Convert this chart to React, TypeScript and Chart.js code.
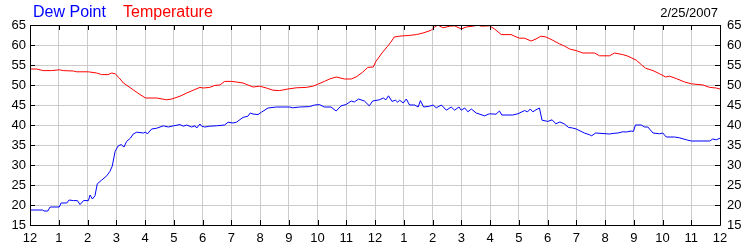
import React, { useEffect, useRef } from "react";
import { Chart, registerables } from "chart.js";

Chart.register(...registerables);

const chartDate = "2/25/2007";
const dewLabel = "Dew Point";
const tempLabel = "Temperature";

const yTicks = [15, 20, 25, 30, 35, 40, 45, 50, 55, 60, 65];
const hourTicks = [0, 1, 2, 3, 4, 5, 6, 7, 8, 9, 10, 11, 12, 13, 14, 15, 16, 17, 18, 19, 20, 21, 22, 23, 24];

const tempHours = [
  0, 0.23, 0.46, 0.75, 1.02, 1.16, 1.51, 1.62, 2.03, 2.32, 2.49, 2.72, 2.84, 2.96, 3.1, 3.25, 3.59, 3.83, 4.02, 4.41,
  4.75, 4.93, 5.22, 5.45, 5.68, 5.91, 6.02, 6.25, 6.43, 6.6, 6.77, 7.0, 7.18, 7.41, 7.58, 7.76, 7.99, 8.22, 8.45, 8.68,
  8.97, 9.26, 9.61, 9.84, 10.01, 10.24, 10.42, 10.65, 10.82, 10.94, 11.17, 11.34, 11.57, 11.75, 11.94, 12.03, 12.27,
  12.44, 12.55, 12.67, 12.84, 13.2, 13.44, 13.67, 13.96, 14.07, 14.19, 14.36, 14.6, 14.77, 15.0, 15.17, 15.4, 15.58,
  15.69, 15.98, 16.16, 16.39, 16.73, 17.02, 17.2, 17.43, 17.6, 17.77, 17.95, 18.18, 18.41, 18.6, 18.77, 19.0, 19.23,
  19.64, 19.81, 20.16, 20.33, 20.62, 20.8, 21.09, 21.26, 21.41, 21.67, 21.9, 22.11, 22.25, 22.48, 22.77, 23.0, 23.41,
  23.64, 23.87, 24.0,
];
const tempValues = [
  54.0, 54.0, 53.6, 53.6, 53.8, 53.6, 53.5, 53.3, 53.3, 53.0, 52.6, 52.6, 53.0, 52.8, 51.8, 50.5, 48.8, 47.6, 46.75, 46.75,
  46.3, 46.5, 47.2, 48.0, 48.7, 49.4, 49.25, 49.4, 49.9, 50.0, 50.9, 50.9, 50.75, 50.5, 50.0, 49.5, 49.7, 49.25, 48.7, 48.6,
  49.0, 49.3, 49.4, 49.7, 50.2, 50.9, 51.5, 52.0, 51.7, 51.5, 51.5, 52.0, 53.2, 54.4, 54.5, 55.9, 58.25,
  59.7, 60.7, 62.0, 62.2, 62.4, 62.6, 63.0, 63.7, 64.5, 65.0, 64.3, 64.7, 64.8, 64.0, 64.5, 64.7, 65.0,
  64.7, 64.8, 64.0, 62.6, 62.6, 61.7, 61.7, 61.0, 61.5, 62.2, 62.0, 61.2, 60.3, 59.7, 59.0, 58.6, 58.0,
  58.0, 57.3, 57.3, 58.0, 57.6, 57.2, 56.2, 55.1, 54.2, 53.6, 52.8, 52.0, 52.2, 51.6, 50.75, 50.3, 50.0,
  49.4, 49.25, 49.0,
];

const dewHours = [
  0, 0.44, 0.49, 0.62, 0.7, 1.02, 1.08, 1.28, 1.36, 1.51, 1.65, 1.74, 1.86, 2.03, 2.09, 2.17, 2.26, 2.34, 2.49, 2.67,
  2.78, 2.86, 2.96, 3.07, 3.17, 3.27, 3.36, 3.5, 3.59, 3.71, 3.94, 4.02, 4.08, 4.23, 4.41, 4.64, 4.81, 4.99, 5.22, 5.33,
  5.45, 5.62, 5.74, 5.8, 5.91, 5.97, 6.08, 6.25, 6.49, 6.77, 6.89, 7.06, 7.18, 7.41, 7.58, 7.66, 7.76, 7.93, 8.05, 8.28,
  8.57, 9.03, 9.14, 9.38, 9.72, 9.9, 10.07, 10.24, 10.47, 10.65, 10.82, 10.99, 11.17, 11.28, 11.43, 11.63, 11.8, 11.92,
  12.15, 12.29, 12.38, 12.47, 12.59, 12.71, 12.79, 12.86, 12.98, 13.09, 13.2, 13.38, 13.5, 13.58, 13.69, 13.9, 14.02,
  14.13, 14.31, 14.48, 14.65, 14.77, 14.92, 15.0, 15.12, 15.23, 15.35, 15.52, 15.81, 15.98, 16.21, 16.33, 16.41, 16.79,
  16.97, 17.2, 17.31, 17.4, 17.49, 17.6, 17.72, 17.81, 18.01, 18.16, 18.29, 18.43, 18.58, 18.73, 18.87, 19.0, 19.28,
  19.45, 19.54, 19.67, 20.16, 20.28, 20.45, 20.62, 20.74, 20.91, 20.99, 21.06, 21.26, 21.38, 21.49, 21.67, 21.9, 22.01,
  22.13, 22.42, 22.59, 22.83, 23.0, 23.64, 23.75, 23.87, 24.0,
];
const dewValues = [
  18.75, 18.75, 18.5, 18.5, 19.5, 19.5, 20.5, 20.5, 21.25, 21.1, 21.1, 20.1, 21.1, 21.1, 22.5, 21.5, 22.3, 25.3, 26.2, 27.3,
  28.4, 29.7, 33.4, 34.8, 35.1, 34.5, 35.9, 36.75, 37.75, 38.2, 38.0, 38.25, 37.75, 39.0, 39.2, 39.8, 39.5, 39.8, 40.1, 39.7,
  40.0, 39.5, 39.8, 39.25, 40.25, 39.7, 39.5, 39.7, 39.8, 40.0, 40.7, 40.5, 40.7, 41.9, 42.2, 43.0, 42.75, 42.6, 43.2, 44.25,
  44.5, 44.5, 44.3, 44.5, 44.6, 45.0, 45.1, 44.5, 44.5, 43.5, 44.8, 45.1, 46.0, 45.75, 46.5, 46.0, 44.8, 46.0,
  46.3, 46.75, 46.3, 47.3, 45.9, 46.2, 45.7, 46.2, 45.5, 46.5, 45.0, 45.0, 44.5, 46.1, 44.5, 44.7, 45.0,
  44.3, 45.0, 43.7, 44.5, 43.7, 44.5, 43.7, 44.25, 43.3, 44.0, 43.0, 42.3, 42.8, 42.7, 43.5, 42.5, 42.5,
  42.8, 43.6, 43.3, 44.0, 43.3, 43.8, 44.25, 41.2, 40.9, 41.3, 40.3, 40.75, 40.3, 39.4, 39.25, 39.0, 38.0,
  37.6, 37.3, 38.0, 37.75, 37.9, 38.0, 38.3, 38.25, 38.5, 38.4, 40.0, 40.0, 39.5, 39.5, 38.0, 37.8, 38.0,
  37.0, 37.0, 36.8, 36.3, 36.0, 36.0, 36.5, 36.3, 36.7,
];

const FONT = "'Liberation Sans', Arial, sans-serif";

const frame = {
  id: "frame",
  afterDraw(chart: any) {
    const { ctx, chartArea } = chart;
    const { left, right, top, bottom } = chartArea;
    const xs = chart.scales.x;
    const ys = chart.scales.y;
    ctx.save();
    ctx.strokeStyle = "#000";
    ctx.lineWidth = 1;
    ctx.beginPath();
    ctx.rect(Math.round(left) + 0.5, Math.round(top) + 0.5, Math.round(right - left), Math.round(bottom - top));
    for (const h of hourTicks) {
      const px = Math.round(xs.getPixelForValue(h)) + 0.5;
      ctx.moveTo(px, top);
      ctx.lineTo(px, top + 5);
      ctx.moveTo(px, bottom);
      ctx.lineTo(px, bottom - 5);
    }
    for (const v of yTicks) {
      const py = Math.round(ys.getPixelForValue(v)) + 0.5;
      ctx.moveTo(left, py);
      ctx.lineTo(left + 5, py);
      ctx.moveTo(right, py);
      ctx.lineTo(right - 5, py);
    }
    ctx.stroke();
    ctx.restore();
  },
};

export default function App() {
  const ref = useRef<HTMLCanvasElement>(null);
  useEffect(() => {
    document.body.style.margin = "0";
    const chart = new Chart(ref.current as HTMLCanvasElement, {
      type: "line",
      data: {
        datasets: [
          {
            label: tempLabel,
            data: tempHours.map((h, i) => ({ x: h, y: tempValues[i] })),
            borderColor: "#ff0000",
            borderWidth: 1,
            pointRadius: 0,
            tension: 0,
            fill: false,
          },
          {
            label: dewLabel,
            data: dewHours.map((h, i) => ({ x: h, y: dewValues[i] })),
            borderColor: "#0000ff",
            borderWidth: 1,
            pointRadius: 0,
            tension: 0,
            fill: false,
          },
        ],
      },
      options: {
        animation: false,
        responsive: false,
        devicePixelRatio: 1,
        layout: { padding: { top: 25, left: 0, right: 0, bottom: 0 } },
        plugins: { legend: { display: false }, tooltip: { enabled: false } },
        scales: {
          x: {
            type: "linear",
            min: 0,
            max: 24,
            position: "bottom",
            afterFit: (s: any) => {
              s.height = 25;
            },
            afterBuildTicks: (s: any) => {
              s.ticks = hourTicks.map((v) => ({ value: v }));
            },
            ticks: {
              autoSkip: false,
              maxRotation: 0,
              padding: 6,
              color: "#000",
              font: { family: FONT, size: 13 },
              callback: (v: any) => String(v % 12 === 0 ? 12 : v % 12),
            },
            grid: { color: "#cccccc", drawTicks: false },
            border: { display: false },
          },
          y: {
            min: 15,
            max: 65,
            position: "left",
            afterFit: (s: any) => {
              s.width = 30;
            },
            afterBuildTicks: (s: any) => {
              s.ticks = yTicks.map((v) => ({ value: v }));
            },
            ticks: { padding: 4, color: "#000", font: { family: FONT, size: 13 } },
            grid: { color: "#cccccc", drawTicks: false },
            border: { display: false },
          },
          y2: {
            min: 15,
            max: 65,
            position: "right",
            afterFit: (s: any) => {
              s.width = 30;
            },
            afterBuildTicks: (s: any) => {
              s.ticks = yTicks.map((v) => ({ value: v }));
            },
            ticks: { padding: 7, color: "#000", font: { family: FONT, size: 13 } },
            grid: { display: false, drawTicks: false },
            border: { display: false },
          },
        },
      },
      plugins: [frame],
    });
    return () => chart.destroy();
  }, []);

  return (
    <div style={{ position: "relative", width: 750, height: 250, background: "#fff" }}>
      <canvas ref={ref} width={750} height={250} style={{ position: "absolute", left: 0, top: 0 }} />
      <span
        style={{
          position: "absolute",
          left: 33,
          top: 4,
          fontFamily: FONT,
          fontSize: 16,
          lineHeight: "16px",
          color: "#0000ff",
          whiteSpace: "nowrap",
        }}
      >
        {dewLabel}
      </span>
      <span
        style={{
          position: "absolute",
          left: 123,
          top: 4,
          fontFamily: FONT,
          fontSize: 16,
          lineHeight: "16px",
          color: "#ff0000",
          whiteSpace: "nowrap",
        }}
      >
        {tempLabel}
      </span>
      <span
        style={{
          position: "absolute",
          right: 32,
          top: 6,
          fontFamily: FONT,
          fontSize: 13,
          lineHeight: "13px",
          color: "#000",
          whiteSpace: "nowrap",
        }}
      >
        {chartDate}
      </span>
    </div>
  );
}
